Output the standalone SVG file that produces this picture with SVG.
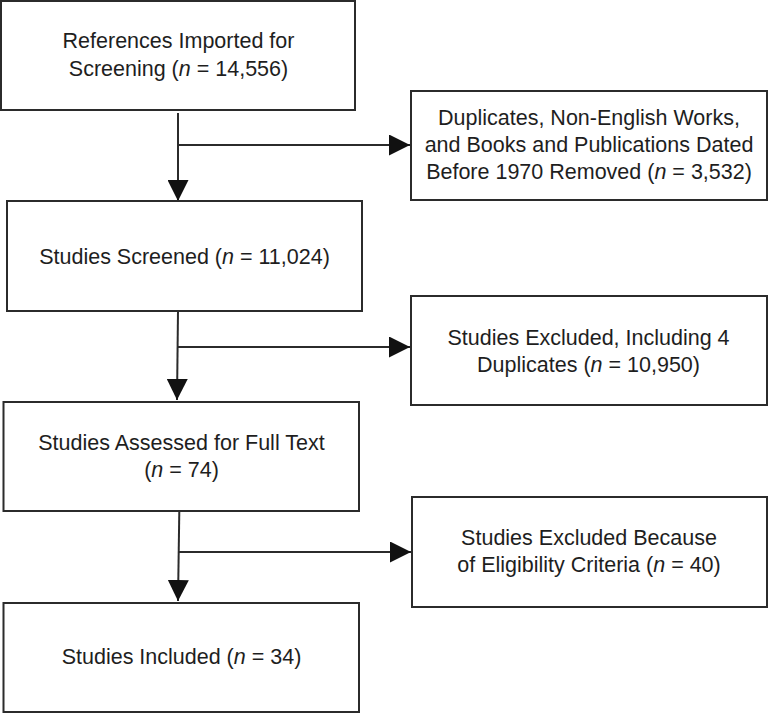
<svg xmlns="http://www.w3.org/2000/svg" width="768" height="713" viewBox="0 0 768 713">
<defs>
<style>
.box{fill:#fff;stroke:#2b2b2b;stroke-width:2}
.t{font-family:"Liberation Sans",Arial,sans-serif;font-size:21.5px;fill:#1e1e1e;text-anchor:middle}
.i{font-style:italic}
.c{stroke:#2b2b2b;stroke-width:2;fill:none}
</style>
<marker id="ah" markerWidth="21" markerHeight="21" viewBox="0 0 21 21" refX="21" refY="10.5" orient="auto" markerUnits="userSpaceOnUse">
<path d="M0,0 L21,10.5 L0,21 Z" fill="#111"/>
</marker>
</defs>
<g id="connectors">
<line class="c" x1="178" y1="113" x2="178" y2="201" marker-end="url(#ah)"/>
<line class="c" x1="178" y1="145" x2="410" y2="145" marker-end="url(#ah)"/>
<line class="c" x1="178" y1="311" x2="177" y2="400" marker-end="url(#ah)"/>
<line class="c" x1="178" y1="347" x2="410" y2="347" marker-end="url(#ah)"/>
<line class="c" x1="179.3" y1="511" x2="178" y2="601" marker-end="url(#ah)"/>
<line class="c" x1="179" y1="552" x2="411" y2="552" marker-end="url(#ah)"/>
</g>
<g id="n1">
<rect class="box" x="1" y="1" width="354" height="109"/>
<text class="t" x="178.5" y="48">References Imported for</text>
<text class="t" x="178.5" y="76">Screening (<tspan class="i">n</tspan> = 14,556)</text>
</g>
<g id="n2">
<rect class="box" x="411" y="91" width="356" height="109"/>
<text class="t" x="589" y="125">Duplicates, Non-English Works,</text>
<text class="t" x="589" y="152">and Books and Publications Dated</text>
<text class="t" x="589" y="178.5">Before 1970 Removed (<tspan class="i">n</tspan> = 3,532)</text>
</g>
<g id="n3">
<rect class="box" x="7" y="201" width="355" height="110"/>
<text class="t" x="184.5" y="263.5">Studies Screened (<tspan class="i">n</tspan> = 11,024)</text>
</g>
<g id="n4">
<rect class="box" x="411" y="296" width="356" height="109"/>
<text class="t" x="588.5" y="345">Studies Excluded, Including 4</text>
<text class="t" x="588.5" y="372">Duplicates (<tspan class="i">n</tspan> = 10,950)</text>
</g>
<g id="n5">
<rect class="box" x="3.5" y="402" width="355.5" height="109"/>
<text class="t" x="181.5" y="450">Studies Assessed for Full Text</text>
<text class="t" x="181.5" y="477">(<tspan class="i">n</tspan> = 74)</text>
</g>
<g id="n6">
<rect class="box" x="412" y="497" width="355" height="110"/>
<text class="t" x="589" y="545">Studies Excluded Because</text>
<text class="t" x="589" y="572">of Eligibility Criteria (<tspan class="i">n</tspan> = 40)</text>
</g>
<g id="n7">
<rect class="box" x="3.5" y="603" width="355.5" height="109"/>
<text class="t" x="181.5" y="663.5">Studies Included (<tspan class="i">n</tspan> = 34)</text>
</g>
</svg>
